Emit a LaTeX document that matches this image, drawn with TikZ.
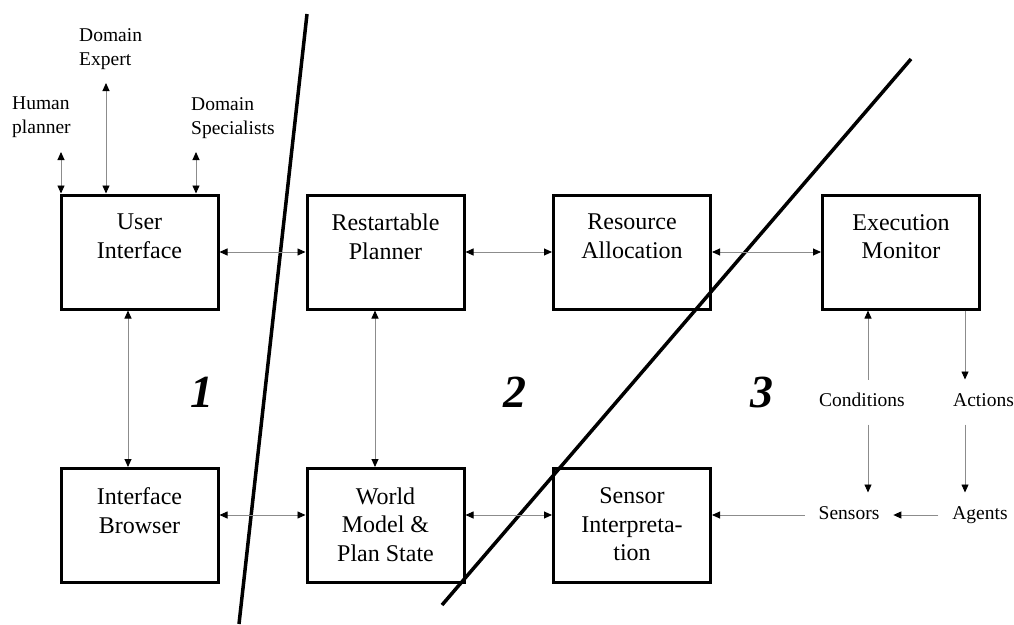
\documentclass[tikz,border=0pt]{standalone}
\usepackage{fontspec}
\setmainfont{Liberation Serif}
\usetikzlibrary{arrows.meta}

\begin{document}
\begin{tikzpicture}[x=1pt,y=-1pt,
  box/.style={draw, line width=3pt, minimum width=157pt, minimum height=114pt, inner sep=0pt},
  boxtext/.style={font=\fontsize{24}{28.5}\selectfont, align=center, inner sep=0pt, anchor=north, yshift=-20.5pt},
  lbl/.style={font=\fontsize{19.5}{24}\selectfont, inner sep=0pt},
  toplbl/.style={lbl, align=left, anchor=north west},
  side/.style={lbl, text height=13pt, text depth=4pt, outer sep=14pt},
  zone/.style={font=\fontsize{46}{46}\selectfont\bfseries\itshape},
  link/.style={draw=black!45, line width=0.9pt},
  both/.style={link, arrows={Triangle[color=black,length=8pt,width=7pt]-Triangle[color=black,length=8pt,width=7pt]}},
  fwd/.style={link, arrows={-Triangle[color=black,length=8pt,width=7pt]}},
  divider/.style={line width=3.5pt}]

\useasboundingbox (0,0) rectangle (1014,624);

% components, top row
\node[box, label={[boxtext]north:User\\Interface}] (ui) at (139.5,252) {};
\node[box, label={[boxtext]north:Restartable\\Planner}] (rp) at (385.5,252) {};
\node[box, label={[boxtext]north:Resource\\Allocation}] (ra) at (632,252) {};
\node[box, label={[boxtext]north:Execution\\Monitor}] (em) at (901,252) {};

% components, bottom row
\node[box, label={[boxtext]north:Interface\\Browser}] (ib) at (139.5,525.5) {};
\node[box, label={[boxtext]north:World\\Model \&\\Plan State}] (wm) at (385.5,525.5) {};
\node[box, label={[boxtext]north:Sensor\\Interpreta-\\tion}] (si) at (632,525.5) {};

% people around the user interface
\node[toplbl] (hp) at (12,97) {Human\\planner};
\node[toplbl] (de) at (79,28) {Domain\\Expert};
\node[toplbl] (ds) at (191,97) {Domain\\Specialists};
\coordinate (hpA) at (61,152);
\coordinate (deA) at (106,83);
\coordinate (dsA) at (196,152);

% external signals
\node[side] (cond) at (862,402) {Conditions};
\node[side] (act) at (983.5,402) {Actions};
\node[side] (sens) at (849,515) {Sensors};
\node[side] (ag) at (980,515) {Agents};
\coordinate (xc) at (868,0);
\coordinate (xa) at (965,0);

% zone numbers
\node[zone] (z1) at (202,392) {1};
\node[zone] (z2) at (515,392) {2};
\node[zone] (z3) at (762,392) {3};

% dividing lines
\draw[divider] (307,14) -- (239,624);
\draw[divider] (911,59) -- (442,605);

% connectors
\draw[both] (hpA) -- (hpA |- ui.north);
\draw[both] (deA) -- (deA |- ui.north);
\draw[both] (dsA) -- (dsA |- ui.north);

\draw[both] (ui.east) -- (rp.west);
\draw[both] (rp.east) -- (ra.west);
\draw[both] (ra.east) -- (em.west);

\draw[both] ([xshift=-11.5pt]ui.south) -- ([xshift=-11.5pt]ib.north);
\draw[both] ([xshift=-10.5pt]rp.south) -- ([xshift=-10.5pt]wm.north);

\draw[both] ([yshift=10.5pt]ib.east) -- ([yshift=10.5pt]wm.west);
\draw[both] ([yshift=10.5pt]wm.east) -- ([yshift=10.5pt]si.west);
\draw[fwd] (sens.west) -- (sens.west -| si.east);

\draw[fwd] (cond.north -| xc) -- (em.south -| xc);
\draw[fwd] (em.south -| xa) -- (act.north -| xa);
\draw[fwd] (cond.south -| xc) -- (sens.north -| xc);
\draw[fwd] (act.south -| xa) -- (ag.north -| xa);
\draw[fwd] (ag.west) -- (sens.east);

\end{tikzpicture}
\end{document}
